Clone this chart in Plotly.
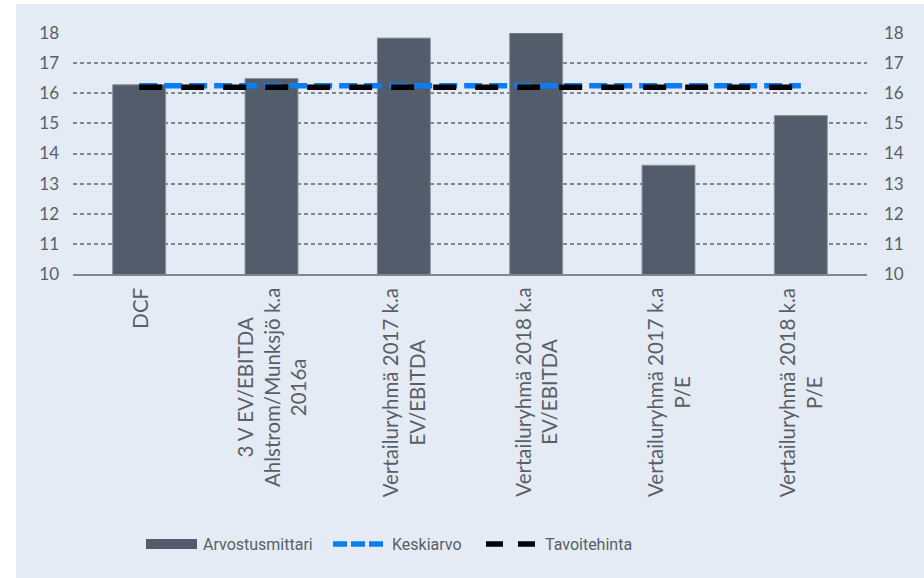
import plotly.graph_objects as go

# Valuation methods and their implied share price (EUR)
categories = [
    "DCF",
    "3 V EV/EBITDA<br>Ahlstrom/Munksjö k.a<br>2016a",
    "Vertailuryhmä 2017 k.a<br>EV/EBITDA",
    "Vertailuryhmä 2018 k.a<br>EV/EBITDA",
    "Vertailuryhmä 2017 k.a<br>P/E",
    "Vertailuryhmä 2018 k.a<br>P/E",
]
values = [16.28, 16.49, 17.83, 18.0, 13.61, 15.26]
average = sum(values) / len(values)
target_price = 16.2
y_ticks = [10, 11, 12, 13, 14, 15, 16, 17, 18]
series_names = ["Arvostusmittari", "Keskiarvo", "Tavoitehinta"]

BG = "#E4EBF5"
BAR = "#525C6A"
BAR_EDGE = "#8A919A"
BLUE = "#0A7CF5"
BLACK = "#000000"
TEXT = "#5A5F66"
FONT = "Lato"
LEG_FONT = "Roboto"

W, H = 924, 578
L, R, T, B = 73, 867, 33, 274
pw, ph = R - L, B - T


def px_x(x):
    return (x - L) / pw


def px_y(y):
    return (B - y) / ph


fig = go.Figure()

fig.add_trace(go.Bar(
    x=categories, y=values, name=series_names[0],
    marker=dict(color=BAR, line=dict(color=BAR_EDGE, width=1)),
    width=0.4,
))
fig.add_trace(go.Scatter(
    x=[categories[0], categories[-1]], y=[average, average],
    mode="lines", name=series_names[1],
    line=dict(color=BLUE, width=5.5, dash="18px,7px"),
))
fig.add_trace(go.Scatter(
    x=[categories[0], categories[-1]], y=[target_price, target_price],
    mode="lines", name=series_names[2], yaxis="y2",
    line=dict(color=BLACK, width=5.5, dash="23px,19px"),
))

# rotated category labels, each line centred
for c in categories:
    fig.add_annotation(
        x=c, y=px_y(286), xref="x", yref="paper",
        text=c, textangle=-90, align="center",
        xanchor="center", yanchor="top", showarrow=False,
        font=dict(family=FONT, size=20.5, color=TEXT),
    )

# light panel behind the chart
fig.add_shape(
    type="rect", xref="paper", yref="paper",
    x0=px_x(16), x1=px_x(W), y0=px_y(H), y1=px_y(4),
    fillcolor=BG, line=dict(width=0), layer="below",
)

# legend row along the bottom
ly = px_y(544)
fig.add_shape(
    type="rect", xref="paper", yref="paper",
    x0=px_x(146), x1=px_x(197), y0=px_y(549), y1=px_y(539),
    fillcolor=BAR, line=dict(width=0),
)
fig.add_shape(
    type="line", xref="paper", yref="paper",
    x0=px_x(333), x1=px_x(383), y0=ly, y1=ly,
    line=dict(color=BLUE, width=5.5, dash="14px,4px"),
)
fig.add_shape(
    type="line", xref="paper", yref="paper",
    x0=px_x(486), x1=px_x(536), y0=ly, y1=ly,
    line=dict(color=BLACK, width=5.5, dash="17px,15px"),
)
for name, xpx in zip(series_names, [201, 390, 543]):
    fig.add_annotation(
        x=px_x(xpx), y=ly, xref="paper", yref="paper",
        text=name, showarrow=False, xanchor="left", yanchor="middle",
        font=dict(family=LEG_FONT, size=16, color=TEXT),
    )

axis_common = dict(
    range=[10, 18], tickvals=y_ticks, ticks="",
    tickfont=dict(family=FONT, size=17, color=TEXT),
    zeroline=False, fixedrange=True,
)

fig.update_layout(
    width=W, height=H,
    margin=dict(l=L, r=W - R, t=T, b=H - B, pad=0),
    paper_bgcolor="white", plot_bgcolor="rgba(0,0,0,0)",
    font=dict(family=FONT, size=16, color=TEXT),
    showlegend=False,
    xaxis=dict(
        showticklabels=False, ticks="", showgrid=False,
        showline=True, linecolor="#7F8790", linewidth=2,
        fixedrange=True,
    ),
    yaxis=dict(
        **axis_common, showgrid=True, gridcolor="#80878F",
        griddash="4px,3px", gridwidth=1.5, ticklabelstandoff=13,
    ),
    yaxis2=dict(
        **axis_common, overlaying="y", side="right", showgrid=False,
        ticklabelstandoff=16,
    ),
)

fig.write_html("out.html")
